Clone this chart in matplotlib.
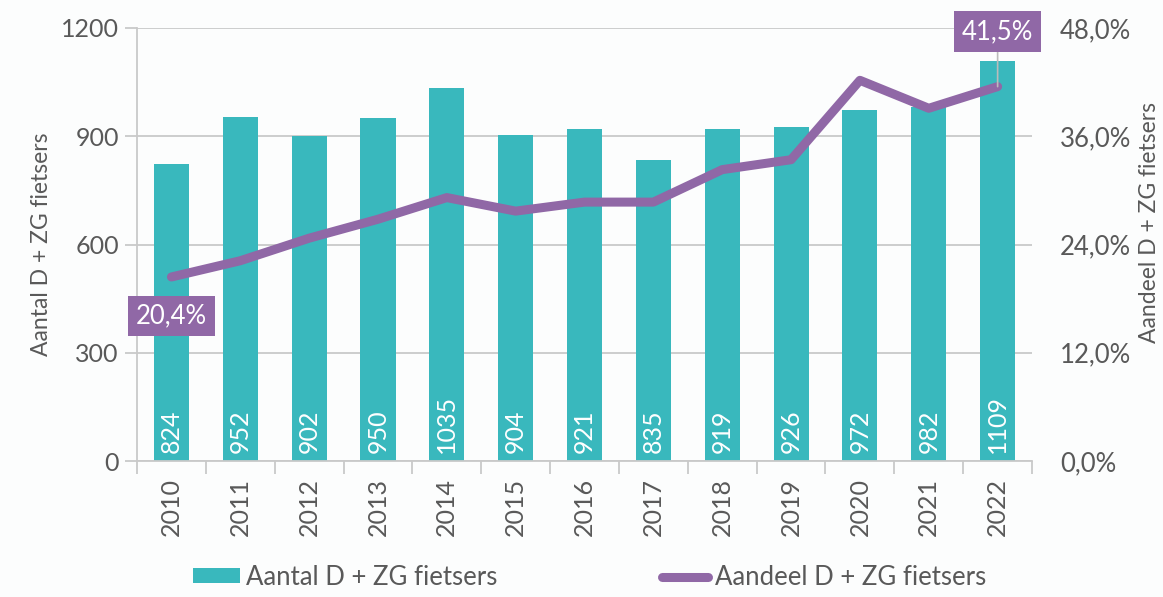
import numpy as np
import matplotlib
matplotlib.use('Agg')
import matplotlib.pyplot as plt
from matplotlib.ticker import FuncFormatter

# ── Data ────────────────────────────────────────────────────────────────────
years = ['2010', '2011', '2012', '2013', '2014', '2015', '2016',
         '2017', '2018', '2019', '2020', '2021', '2022']
aantal = [824, 952, 902, 950, 1035, 904, 921, 835, 919, 926, 972, 982, 1109]
aandeel = [20.4, 22.2, 24.7, 26.8, 29.2, 27.7, 28.7, 28.7, 32.3, 33.4, 42.2, 39.1, 41.5]

TEAL = '#39b8bd'
PURPLE = '#9068a6'
TXT = '#595959'
GRID = '#c9c9c9'

plt.rcParams['font.family'] = ['Lato', 'DejaVu Sans']

fig = plt.figure(figsize=(11.63, 5.97), dpi=100)
fig.patch.set_facecolor('#fcfdfd')
ax = fig.add_axes([0.1178, 0.2278, 0.7696, 0.7253])
ax.set_facecolor('none')
ax2 = ax.twinx()

x = np.arange(len(years))

# bars
ax.bar(x, aantal, width=0.51, color=TEAL, zorder=2, label='Aantal D + ZG fietsers')
for xi, v in zip(x, aantal):
    ax.text(xi, 22, str(v), rotation=90, rotation_mode='anchor', ha='left', va='center',
            color='white', fontsize=18, zorder=3)

ax.set_xlim(-0.5, len(years) - 0.5)
ax.set_ylim(0, 1200)
ax.set_yticks([0, 300, 600, 900, 1200])
ax.yaxis.grid(True, color=GRID, lw=1.3, zorder=0)
ax.set_axisbelow(True)
ax.set_xticks(x)
ax.set_xticklabels(years, rotation=90, fontsize=18, color=TXT)
ax.set_xticks(np.arange(-0.5, len(years)), minor=True)
ax.tick_params(axis='x', which='major', length=0, pad=12)
ax.tick_params(axis='x', which='minor', length=9, width=1.3, color=GRID)
ax.tick_params(axis='y', length=9, width=1.3, color=GRID, labelsize=18, labelcolor=TXT, pad=4)
for s in ['top', 'right']:
    ax.spines[s].set_visible(False)
for s in ['left', 'bottom']:
    ax.spines[s].set_color(GRID)
    ax.spines[s].set_linewidth(1.3)
ax.set_ylabel('Aantal D + ZG fietsers', fontsize=16.5, color=TXT)
ax.yaxis.set_label_coords(-0.095, 0.5)

# line
ax2.plot(x, aandeel, color=PURPLE, lw=6.5, solid_capstyle='round', solid_joinstyle='round',
         zorder=4, label='Aandeel D + ZG fietsers')
ax2.set_ylim(0, 48)
ax2.set_yticks([0, 12, 24, 36, 48])
ax2.yaxis.set_major_formatter(FuncFormatter(lambda v, p: f'{v:.1f}%'.replace('.', ',')))
ax2.tick_params(axis='y', length=0, labelsize=18.5, labelcolor=TXT, pad=20)
for s in ax2.spines.values():
    s.set_visible(False)
ax2.set_ylabel('Aandeel D + ZG fietsers', fontsize=16.5, color=TXT)
ax2.yaxis.set_label_coords(1.12, 0.55)

# data labels on first and last point
def pct(v):
    return f'{v:.1f}%'.replace('.', ',')

ax2.text(x[0], 16.1, pct(aandeel[0]), ha='center', va='center', color='white', fontsize=18.5,
         bbox=dict(boxstyle='square,pad=0.3', fc=PURPLE, ec='none'), zorder=6)
ax2.annotate(pct(aandeel[-1]), xy=(x[-1], aandeel[-1]), xytext=(x[-1], 47.6),
             ha='center', va='center', color='white', fontsize=18.5,
             bbox=dict(boxstyle='square,pad=0.3', fc=PURPLE, ec='none'),
             arrowprops=dict(arrowstyle='-', color='#bbbbbb', lw=1.2, shrinkA=0, shrinkB=0),
             zorder=6, annotation_clip=False)

# legend
h1, l1 = ax.get_legend_handles_labels()
h2, l2 = ax2.get_legend_handles_labels()
fig.legend(h1 + h2, l1 + l2, loc='center', bbox_to_anchor=(0.507, 0.033), ncol=2,
           frameon=False, fontsize=18.5, labelcolor=TXT, handlelength=1.8, handleheight=0.5,
           handletextpad=0.25, columnspacing=6.4)

fig.savefig('out.png', dpi=100, facecolor=fig.get_facecolor())
